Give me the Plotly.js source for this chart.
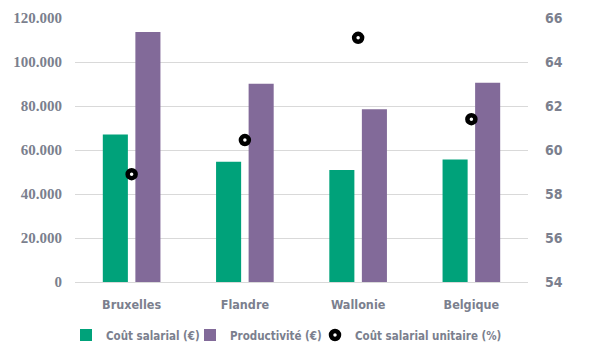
<!DOCTYPE html>
<html>
<head>
<meta charset="utf-8">
<script src="https://cdn.plot.ly/plotly-3.0.1.min.js"></script>
<style>html,body{margin:0;padding:0;background:#fff;}#chart{width:600px;height:361px;}</style>
</head>
<body>
<div id="chart"></div>
<script>
const categories = ["Bruxelles", "Flandre", "Wallonie", "Belgique"];
const coutSalarial = [67000, 54700, 50900, 55700];
const productivite = [113600, 90100, 78500, 90600];
const coutUnitaire = [58.9, 60.45, 65.1, 61.4];
const leftTickVals = [0, 20000, 40000, 60000, 80000, 100000, 120000];
const leftTickText = ["0", "20.000", "40.000", "60.000", "80.000", "100.000", "120.000"];
const rightTickVals = [54, 56, 58, 60, 62, 64, 66];

const textColor = "#7b7f8e";
const condFont = "DejaVu Sans Condensed, sans-serif";

const traces = [
  {type: "bar", x: categories, y: coutSalarial, name: "Coût salarial (€)",
   marker: {color: "#00a27a"}, legend: "legend"},
  {type: "bar", x: categories, y: productivite, name: "Productivité (€)",
   marker: {color: "#826a99"}, legend: "legend2"},
  {type: "scatter", mode: "markers", x: categories, y: coutUnitaire, yaxis: "y2",
   name: "Coût salarial unitaire (%)", legend: "legend3",
   marker: {color: "#ffffff", size: 8, line: {color: "#000000", width: 4.5}}}
];

function legendAt(xpx) {
  return {orientation: "h", xref: "container", yref: "container",
          x: xpx / 600, xanchor: "left", y: 0.072, yanchor: "middle",
          itemwidth: 30, bgcolor: "rgba(0,0,0,0)",
          font: {family: condFont, size: 11.5, color: textColor, weight: "bold"}};
}

const layout = {
  width: 600, height: 361,
  margin: {l: 75, r: 72, t: 18, b: 79},
  paper_bgcolor: "#ffffff", plot_bgcolor: "#ffffff",
  barmode: "group", bargap: 0.425, bargroupgap: 0.23,
  showlegend: true,
  legend: legendAt(66),
  legend2: legendAt(190),
  legend3: legendAt(315),
  xaxis: {tickfont: {family: condFont, size: 12.5, color: textColor, weight: "bold"},
          showgrid: false, showline: false, ticks: "", ticklabelstandoff: 13},
  yaxis: {range: [0, 120000], tickvals: leftTickVals, ticktext: leftTickText,
          tickfont: {family: "Liberation Serif, DejaVu Serif, serif", size: 15, color: textColor, weight: "bold"},
          showgrid: true, gridcolor: "#d9d9d9", gridwidth: 1,
          zeroline: true, zerolinecolor: "#d9d9d9", showline: false, ticks: "", ticklabelstandoff: 12},
  yaxis2: {range: [54, 66], tickvals: rightTickVals, overlaying: "y", side: "right",
           tickfont: {family: condFont, size: 14, color: textColor, weight: "bold"},
           showgrid: false, zeroline: false, showline: false, ticks: "", ticklabelstandoff: 16}
};

Plotly.newPlot("chart", traces, layout, {staticPlot: true, displayModeBar: false});
</script>
</body>
</html>
